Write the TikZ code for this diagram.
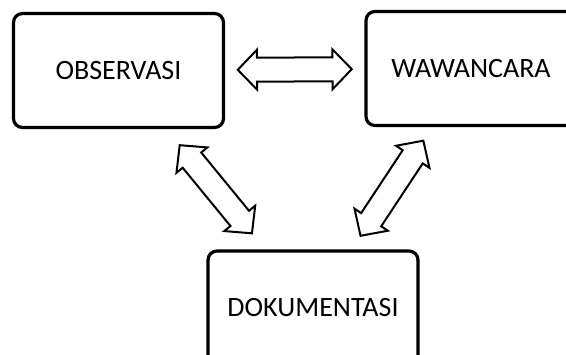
\documentclass[tikz,border=0pt]{standalone}
\usepackage{fontspec}
\setmainfont{Carlito}
\usetikzlibrary{shapes.arrows}

\begin{document}
\begin{tikzpicture}[x=1pt, y=-1pt,
  box/.style={draw, line width=3.2pt, rounded corners=9pt,
    minimum width=210pt, minimum height=114pt, inner sep=0pt,
    font=\fontsize{28}{32}\selectfont},
  dblarrow/.style={draw, line width=2pt, fill=white, double arrow,
    minimum height=114pt, inner xsep=0pt, inner ysep=11pt,
    double arrow head extend=8pt, double arrow tip angle=92}]%
  \useasboundingbox (0,0) rectangle (566,355);
  \clip (0,0) rectangle (566,355);
  \node[box] (obs) at (118.5,70.5) {OBSERVASI};
  \node[box] (waw) at (471,68.5) {WAWANCARA};
  \node[box] (dok) at (313,308) {DOKUMENTASI};
  \foreach \a/\b in {obs/waw, obs/dok, waw/dok} {
    \path (\a) -- node[midway, sloped, dblarrow] {} (\b);
  }
\end{tikzpicture}
\end{document}
